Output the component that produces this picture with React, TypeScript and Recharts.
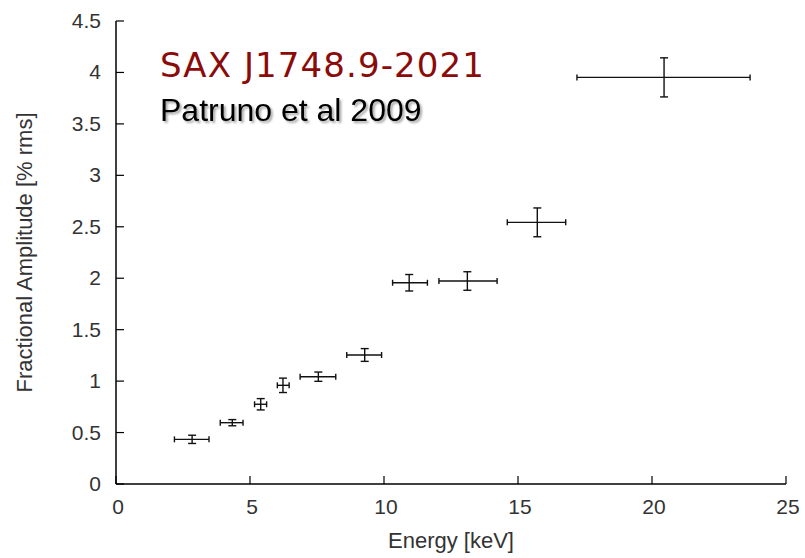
import React from 'react';
import { ScatterChart, Scatter, XAxis, YAxis, ErrorBar } from 'recharts';

// Energy bin centres [keV]
const energy = [2.84, 4.34, 5.4, 6.23, 7.55, 9.28, 10.94, 13.11, 15.72, 20.45];
// Energy bin half-widths (minus / plus) [keV]
const energyErrMinus = [0.66, 0.45, 0.23, 0.21, 0.68, 0.67, 0.62, 1.06, 1.12, 3.25];
const energyErrPlus = [0.63, 0.4, 0.22, 0.23, 0.65, 0.63, 0.68, 1.11, 1.06, 3.21];
// Fractional amplitude [% rms]
const amplitude = [0.434, 0.596, 0.775, 0.959, 1.043, 1.254, 1.956, 1.973, 2.543, 3.952];
const amplitudeErr = [0.04, 0.03, 0.055, 0.07, 0.045, 0.062, 0.08, 0.09, 0.14, 0.19];

const xTicks = [0, 5, 10, 15, 20, 25];
const yTicks = [0, 0.5, 1, 1.5, 2, 2.5, 3, 3.5, 4, 4.5];

const titleText = 'SAX J1748.9-2021';
const subtitleText = 'Patruno et al 2009';
const xLabel = 'Energy [keV]';
const yLabel = 'Fractional Amplitude [% rms]';

const data = energy.map((e, i) => ({
  energy: e,
  amp: amplitude[i],
  xErr: [energyErrMinus[i], energyErrPlus[i]],
  yErr: amplitudeErr[i],
}));

const FONT = '"Liberation Sans", Arial, sans-serif';
const TICK_COLOR = '#333';
const TICK_LEN = 8;

const BottomTick = (props: any) => {
  const { x, y, payload } = props;
  return (
    <g>
      <line x1={x} y1={y} x2={x} y2={y - TICK_LEN} stroke="#000" strokeWidth={1.2} />
      <text x={x + 2} y={y + 30} textAnchor="middle" fontFamily={FONT} fontSize={21} fill={TICK_COLOR}>
        {payload.value}
      </text>
    </g>
  );
};

const TopTick = (props: any) => {
  const { x, y } = props;
  return <line x1={x} y1={y} x2={x} y2={y + TICK_LEN} stroke="#000" strokeWidth={1.2} />;
};

const LeftTick = (props: any) => {
  const { x, y, payload } = props;
  return (
    <g>
      <line x1={x} y1={y} x2={x + TICK_LEN} y2={y} stroke="#000" strokeWidth={1.2} />
      <text x={x - 15} y={y + 7} textAnchor="end" fontFamily={FONT} fontSize={21} fill={TICK_COLOR}>
        {payload.value}
      </text>
    </g>
  );
};

const RightTick = (props: any) => {
  const { x, y } = props;
  return <line x1={x} y1={y} x2={x - TICK_LEN} y2={y} stroke="#000" strokeWidth={1.2} />;
};

const NoShape = () => <g />;

export default function App() {
  return (
    <div style={{ position: 'absolute', left: 0, top: 0, width: 805, height: 558, background: '#fff' }}>
      <ScatterChart width={805} height={558} margin={{ top: 21, right: 19, bottom: 0, left: 0 }}>
        <XAxis
          xAxisId="bottom"
          dataKey="energy"
          type="number"
          domain={[0, 25]}
          ticks={xTicks}
          interval={0}
          height={74}
          tickSize={0}
          tickMargin={0}
          tickLine={false}
          tick={<BottomTick />}
          axisLine={{ stroke: '#000', strokeWidth: 1.5 }}
          label={{
            value: xLabel,
            position: 'insideBottom',
            offset: 10,
            style: { fontFamily: FONT, fontSize: 22, fill: TICK_COLOR },
          }}
        />
        <XAxis
          xAxisId="top"
          orientation="top"
          dataKey="energy"
          type="number"
          domain={[0, 25]}
          ticks={xTicks}
          interval={0}
          height={0}
          tickSize={0}
          tickMargin={0}
          tickLine={false}
          tick={<TopTick />}
          axisLine={{ stroke: '#000', strokeWidth: 1.5 }}
        />
        <YAxis
          yAxisId="left"
          dataKey="amp"
          type="number"
          domain={[0, 4.5]}
          ticks={yTicks}
          interval={0}
          width={116}
          tickSize={0}
          tickMargin={0}
          tickLine={false}
          tick={<LeftTick />}
          axisLine={{ stroke: '#000', strokeWidth: 1.5 }}
          label={{
            value: yLabel,
            angle: -90,
            position: 'insideLeft',
            offset: 24,
            style: { fontFamily: FONT, fontSize: 22, fill: TICK_COLOR, textAnchor: 'middle' },
          }}
        />
        <YAxis
          yAxisId="right"
          orientation="right"
          dataKey="amp"
          type="number"
          domain={[0, 4.5]}
          ticks={yTicks}
          interval={0}
          width={0}
          tickSize={0}
          tickMargin={0}
          tickLine={false}
          tick={<RightTick />}
          axisLine={{ stroke: '#000', strokeWidth: 1.5 }}
        />
        <Scatter
          data={data}
          xAxisId="bottom"
          yAxisId="left"
          shape={<NoShape />}
          isAnimationActive={false}
        >
          <ErrorBar dataKey="xErr" direction="x" width={3} stroke="#111" strokeWidth={1.4} isAnimationActive={false} />
          <ErrorBar dataKey="yErr" direction="y" width={4} stroke="#111" strokeWidth={1.4} isAnimationActive={false} />
        </Scatter>
      </ScatterChart>
      <svg
        width={805}
        height={558}
        style={{ position: 'absolute', left: 0, top: 0, pointerEvents: 'none' }}
      >
        <defs>
          <filter id="shadow" x="-10%" y="-30%" width="120%" height="160%">
            <feDropShadow dx="2" dy="2" stdDeviation="1.2" floodColor="#000" floodOpacity="0.35" />
          </filter>
        </defs>
        <text
          x={160}
          y={77}
          fontFamily='"DejaVu Sans", Verdana, sans-serif'
          fontSize={34}
          letterSpacing={1.1}
          fill="#8b0a0a"
        >
          {titleText}
        </text>
        <text x={160} y={121} fontFamily={FONT} fontSize={32} fill="#000" filter="url(#shadow)">
          {subtitleText}
        </text>
      </svg>
    </div>
  );
}
